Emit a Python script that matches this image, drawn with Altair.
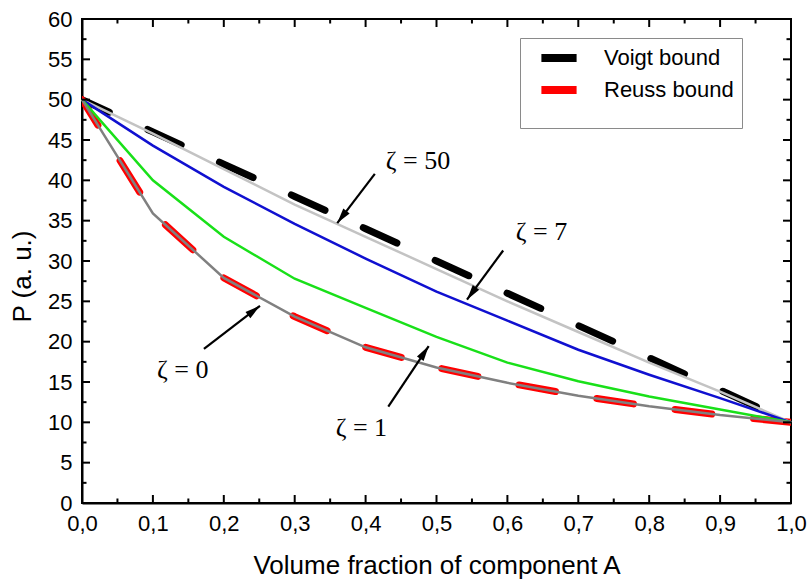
import math
import altair as alt
import pandas as pd

# ---------------- data ----------------
fraction = [0.0, 0.1, 0.2, 0.3, 0.4, 0.5, 0.6, 0.7, 0.8, 0.9, 1.0]
voigt = [50, 46, 42, 38, 34, 30, 26, 22, 18, 14, 10]
reuss = [50, 35.9, 27.9, 23.1, 19.3, 16.8, 14.9, 13.3, 12.0, 10.9, 10.0]
zeta_0 = [50, 35.9, 27.9, 23.1, 19.3, 16.8, 14.9, 13.3, 12.0, 10.9, 10.0]
zeta_1 = [50, 40.0, 33.0, 27.8, 24.2, 20.6, 17.4, 15.1, 13.2, 11.6, 10.0]
zeta_7 = [50, 44.3, 39.2, 34.6, 30.3, 26.2, 22.6, 19.0, 15.9, 13.0, 10.0]
zeta_50 = [50, 45.8, 41.4, 37.0, 33.0, 29.0, 25.0, 21.2, 17.4, 13.8, 10.0]

x_major = [0.0, 0.1, 0.2, 0.3, 0.4, 0.5, 0.6, 0.7, 0.8, 0.9, 1.0]
x_minor = [0.05, 0.15, 0.25, 0.35, 0.45, 0.55, 0.65, 0.75, 0.85, 0.95]
y_major = [0, 5, 10, 15, 20, 25, 30, 35, 40, 45, 50, 55, 60]
y_minor = [2.5, 7.5, 12.5, 17.5, 22.5, 27.5, 32.5, 37.5, 42.5, 47.5, 52.5, 57.5]

legend_labels = ["Voigt bound", "Reuss bound"]

# annotations: label position and arrow (start -> tip) in data units
ann_labels = ["ζ = 50", "ζ = 7", "ζ = 0", "ζ = 1"]
ann_text_x = [0.474, 0.648, 0.142, 0.394]
ann_text_y = [42.4, 33.6, 16.5, 9.3]
arrow_x0 = [0.413, 0.594, 0.172, 0.432]
arrow_y0 = [40.8, 31.3, 19.1, 11.95]
arrow_x1 = [0.360, 0.543, 0.251, 0.489]
arrow_y1 = [34.7, 25.2, 24.45, 19.45]

# ---------------- tables ----------------
W, H = 709, 484
X_MIN, X_MAX, Y_MIN, Y_MAX = 0.0, 1.0, 0.0, 60.0
series = {
    "Voigt bound": voigt,
    "Reuss bound": reuss,
    "z50": zeta_50,
    "z7": zeta_7,
    "z1": zeta_1,
    "z0": zeta_0,
}
rows = []
for name, vals in series.items():
    for fx, v in zip(fraction, vals):
        rows.append({"series": name, "x": fx, "y": v})
lines = pd.DataFrame(rows)

ann_rows = []
for i, lab in enumerate(ann_labels):
    dx = (arrow_x1[i] - arrow_x0[i]) * W
    dy = -(arrow_y1[i] - arrow_y0[i]) * H / (Y_MAX - Y_MIN)
    ang = math.degrees(math.atan2(dx, -dy)) % 360
    ann_rows.append({"label": lab, "tx": ann_text_x[i], "ty": ann_text_y[i],
                     "x0": arrow_x0[i], "y0": arrow_y0[i],
                     "x1": arrow_x1[i], "y1": arrow_y1[i], "angle": ang})
ann = pd.DataFrame(ann_rows)

# inward tick marks on all four sides (lengths converted from pixels to data units)
MAJ, MIN = 8.0, 4.5
ux = (X_MAX - X_MIN) / W
uy = (Y_MAX - Y_MIN) / H
xt_rows, yt_rows = [], []
for vals_, L in ((x_major, MAJ), (x_minor, MIN)):
    for v in vals_:
        xt_rows.append({"v": v, "a": Y_MIN, "b": Y_MIN + L * uy})
        xt_rows.append({"v": v, "a": Y_MAX, "b": Y_MAX - L * uy})
for vals_, L in ((y_major, MAJ), (y_minor, MIN)):
    for v in vals_:
        yt_rows.append({"v": v, "a": X_MIN, "b": X_MIN + L * ux})
        yt_rows.append({"v": v, "a": X_MAX, "b": X_MAX - L * ux})
xticks = pd.DataFrame(xt_rows)
yticks = pd.DataFrame(yt_rows)

xs = alt.Scale(domain=[X_MIN, X_MAX], nice=False, zero=False)
ys = alt.Scale(domain=[Y_MIN, Y_MAX], nice=False, zero=False)

text_style = dict(labelFont="Liberation Sans", labelFontSize=22,
                  labelColor="black", labelFlush=False, labelOverlap=False,
                  titleFont="Liberation Sans", titleFontSize=26,
                  titleFontWeight="normal", titleColor="black")

x_main = alt.Axis(orient="bottom", values=x_major, ticks=False, tickSize=0,
                  labelPadding=10, grid=False, domainColor="black", domainWidth=2,
                  labelExpr="replace(format(datum.value, '.1f'), '.', ',')",
                  title="Volume fraction of component A", titlePadding=18,
                  **text_style)
y_main = alt.Axis(orient="left", values=y_major, ticks=False, tickSize=0,
                  labelPadding=10, format="d", title="P (a. u.)",
                  grid=False, domainColor="black", domainWidth=2,
                  titleAngle=270, titleX=-60, titleY=257, titleAlign="center",
                  titleBaseline="middle", **text_style)

base = alt.Chart(lines)

bounds = base.transform_filter(
    alt.FieldOneOfPredicate(field="series", oneOf=legend_labels)
).mark_line(strokeWidth=7, strokeDash=[37, 42], strokeDashOffset=7,
            strokeCap="round", clip=True).encode(
    x=alt.X("x:Q", scale=xs, axis=x_main),
    y=alt.Y("y:Q", scale=ys, axis=y_main),
    color=alt.Color("series:N",
                    scale=alt.Scale(domain=legend_labels, range=["#000000", "#ff0000"]),
                    legend=alt.Legend(orient="none", legendX=438, legendY=19,
                                      title=" ", titleOrient="bottom", titleFontSize=12,
                                      titlePadding=3,
                                      symbolType="M-2.2,0L2.2,0", symbolSize=256,
                                      symbolStrokeWidth=8, labelFontSize=22,
                                      labelFont="Liberation Sans", labelColor="black",
                                      labelExpr="datum.label + '  '",
                                      labelOffset=33, symbolOffset=19, padding=8,
                                      rowPadding=0, strokeColor="#8a8a8a",
                                      fillColor="white")),
    detail="series:N",
)


def curve(name, color):
    return base.transform_filter(alt.datum.series == name).mark_line(
        color=color, strokeWidth=2.5).encode(
        x=alt.X("x:Q", scale=xs), y=alt.Y("y:Q", scale=ys))


c50 = curve("z50", "#c3c3c3")
c7 = curve("z7", "#1010d0")
c1 = curve("z1", "#19e019")
c0 = curve("z0", "#808080")

xtick_layer = alt.Chart(xticks).mark_rule(color="black", strokeWidth=2).encode(
    x=alt.X("v:Q", scale=xs), y=alt.Y("a:Q", scale=ys), y2="b:Q")
ytick_layer = alt.Chart(yticks).mark_rule(color="black", strokeWidth=2).encode(
    y=alt.Y("v:Q", scale=ys), x=alt.X("a:Q", scale=xs), x2="b:Q")

abase = alt.Chart(ann)
shafts = abase.mark_rule(color="black", strokeWidth=2.2).encode(
    x=alt.X("x0:Q", scale=xs), y=alt.Y("y0:Q", scale=ys),
    x2="x1:Q", y2="y1:Q")
heads = abase.mark_point(shape="M0,0L-0.5,1.9L0.5,1.9Z", filled=True, fill="black",
                         fillOpacity=1, strokeWidth=0, size=256).encode(
    x=alt.X("x1:Q", scale=xs), y=alt.Y("y1:Q", scale=ys),
    angle=alt.Angle("angle:Q", scale=None))
texts = abase.mark_text(font="Liberation Serif", fontSize=26, color="black",
                        align="center", baseline="middle").encode(
    x=alt.X("tx:Q", scale=xs), y=alt.Y("ty:Q", scale=ys),
    text="label:N")

chart = alt.layer(bounds, c50, c7, c1, c0, xtick_layer, ytick_layer,
                  shafts, heads, texts).properties(
    width=W, height=H,
    autosize=alt.AutoSizeParams(type="none"),
    padding={"left": 82, "top": 19, "right": 18, "bottom": 76},
    background="white",
).configure_view(stroke="black", strokeWidth=2)

chart.save("out.html", embed_options={"renderer": "svg", "actions": False})
